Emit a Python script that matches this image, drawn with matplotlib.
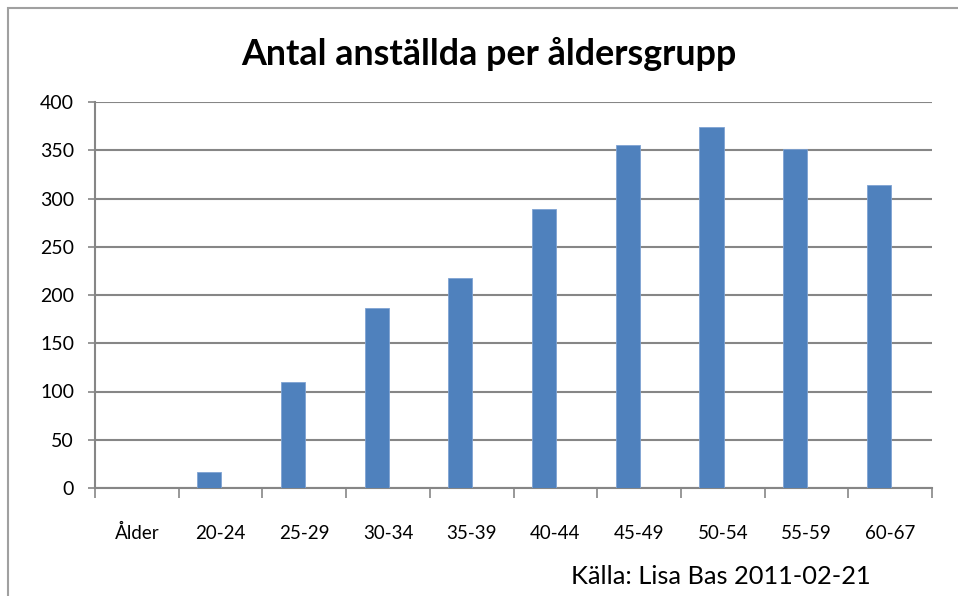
import numpy as np
import matplotlib.pyplot as plt
from matplotlib.patches import Rectangle

plt.rcParams['font.family'] = ['Lato', 'DejaVu Sans']

# data
categories = ["Ålder", "20-24", "25-29", "30-34", "35-39", "40-44",
              "45-49", "50-54", "55-59", "60-67"]
antal = [0, 17, 110, 187, 218, 289, 355, 374, 351, 314]
y_ticks = [0, 50, 100, 150, 200, 250, 300, 350, 400]

bar_color = "#4F81BD"
grid_color = "#868686"

fig = plt.figure(figsize=(9.58, 5.96), dpi=100)
ax = fig.add_axes([95 / 958, 1 - 488 / 596, (932 - 95) / 958, (488 - 102) / 596])

x = np.arange(len(categories))
w = 0.29
# excel-style cluster: bar sits in the left half of the category slot
ax.bar(x - 0.135, antal, width=w, color=bar_color, edgecolor="#7FA3D3",
       linewidth=0.6, zorder=3)

ax.set_xlim(-0.5, len(categories) - 0.5)
ax.set_ylim(0, 400)
ax.set_yticks(y_ticks)
ax.set_xticks(np.arange(len(categories) + 1) - 0.5, minor=False)
ax.set_xticklabels([])
ax.set_xticks(x, minor=True)
ax.set_xticklabels(categories, minor=True, va="baseline")
ax.tick_params(axis="x", which="major", length=7, width=1.2, color=grid_color, direction="out")
ax.tick_params(axis="x", which="minor", length=0, pad=37, labelsize=13.5)
ax.tick_params(axis="y", length=5, width=1.2, color=grid_color, labelsize=14, pad=10)

ax.yaxis.grid(True, color=grid_color, linewidth=1.5, zorder=0)
ax.set_axisbelow(True)
for s in ["top", "right"]:
    ax.spines[s].set_visible(False)
for s in ["left", "bottom"]:
    ax.spines[s].set_color(grid_color)
    ax.spines[s].set_linewidth(1.5)

fig.text(489 / 958, 1 - 54 / 596, "Antal anställda per åldersgrupp",
         ha="center", va="center", fontsize=25.8, fontweight="bold")
fig.text(721 / 958, 1 - 577 / 596, "Källa: Lisa Bas 2011-02-21",
         ha="center", va="center", fontsize=18.3)

# chart frame (cut off at the right and bottom)
fig.patches.append(Rectangle((8 / 958, -0.1), 1.1, 1 - 8 / 596 + 0.1,
                             transform=fig.transFigure, fill=False,
                             edgecolor="#A0A0A0", linewidth=1.5))

fig.savefig("out.png", dpi=100)
